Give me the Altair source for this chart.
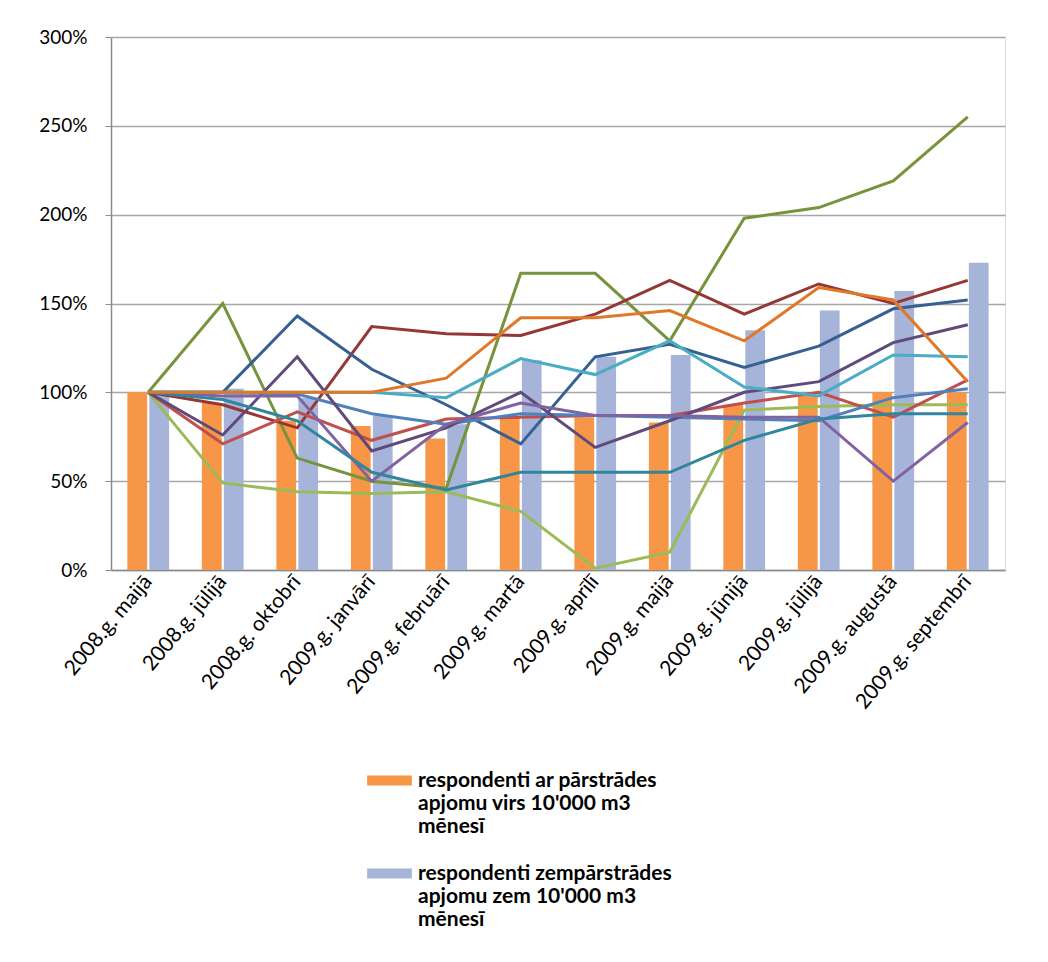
import altair as alt
import pandas as pd

months = ["2008.g. maijā", "2008.g. jūlijā", "2008.g. oktobrī", "2009.g. janvārī",
          "2009.g. februārī", "2009.g. martā", "2009.g. aprīlī", "2009.g. maijā",
          "2009.g. jūnijā", "2009.g. jūlijā", "2009.g. augustā", "2009.g. septembrī"]

bar_names = ["respondenti ar pārstrādes|apjomu virs 10'000 m3|mēnesī",
             "respondenti zempārstrādes|apjomu zem 10'000 m3|mēnesī"]
bar_large = [100, 94, 84, 81, 74, 86, 86, 83, 93, 98, 100, 100]
bar_small = [100, 102, 97, 87, 82, 118, 120, 121, 135, 146, 157, 173]
bar_colors = ["#F79646", "#A5B4D8"]

line_names = ["L1", "L2", "L3", "L4", "L5", "L6", "L7", "L8", "L9", "L10", "L11"]
line_colors = ["#77933C", "#9BBB59", "#953735", "#C0504D", "#376092", "#4F81BD",
               "#604A7B", "#8064A2", "#4BACC6", "#31859C", "#E0782A"]
l1 = [100, 150, 63, 50, 46, 167, 167, 129, 198, 204, 219, 255]
l2 = [100, 49, 44, 43, 44, 33, 1, 10, 90, 92, 93, 93]
l3 = [100, 93, 80, 137, 133, 132, 144, 163, 144, 161, 150, 163]
l4 = [100, 71, 89, 73, 85, 86, 87, 87, 94, 100, 86, 107]
l5 = [100, 100, 143, 113, 93, 71, 120, 127, 114, 126, 147, 152]
l6 = [100, 100, 99, 88, 82, 88, 87, 86, 85, 84, 97, 102]
l7 = [100, 76, 120, 67, 80, 100, 69, 84, 100, 106, 128, 138]
l8 = [100, 98, 98, 50, 82, 94, 87, 87, 86, 86, 50, 83]
l9 = [100, 100, 100, 100, 97, 119, 110, 129, 103, 98, 121, 120]
l10 = [100, 96, 84, 55, 45, 55, 55, 55, 73, 85, 88, 88]
l11 = [100, 100, 100, 100, 108, 142, 142, 146, 129, 159, 152, 106]
line_values = [l1, l2, l3, l4, l5, l6, l7, l8, l9, l10, l11]

bar_rows = []
for name, vals in zip(bar_names, [bar_large, bar_small]):
    for m, v in zip(months, vals):
        bar_rows.append({"month": m, "group": name, "value": v / 100})
bars_df = pd.DataFrame(bar_rows)

line_rows = []
for name, vals in zip(line_names, line_values):
    for i, (m, v) in enumerate(zip(months, vals)):
        line_rows.append({"month": m, "series": name, "value": v / 100, "order": i})
lines_df = pd.DataFrame(line_rows)

FONT = "Lato"

x_enc = alt.X("month:N", sort=months,
              scale=alt.Scale(paddingInner=0.44, paddingOuter=0.22),
              axis=alt.Axis(title=None, labelAngle=-50, labelAlign="right",
                            labelBaseline="middle", labelFontSize=21, labelFont=FONT,
                            labelColor="#000000", labelPadding=8, ticks=False,
                            domainColor="#8C8C8C", domainWidth=1.5))
y_enc = alt.Y("value:Q", scale=alt.Scale(domain=[0, 3], nice=False),
              axis=alt.Axis(title=None, values=[0, 0.5, 1, 1.5, 2, 2.5, 3], format=".0%",
                            labelFontSize=19, labelFont=FONT, labelColor="#000000",
                            labelPadding=18, tickSize=6, tickColor="#8C8C8C",
                            domainColor="#8C8C8C", domainWidth=1.5,
                            gridColor="#A6A6A6", gridWidth=1.3))

bars = alt.Chart(bars_df).mark_bar().encode(
    x=x_enc,
    y=y_enc,
    xOffset=alt.XOffset("group:N", sort=bar_names, scale=alt.Scale(paddingInner=0.1)),
    color=alt.Color("group:N", sort=bar_names,
                    scale=alt.Scale(domain=bar_names, range=bar_colors),
                    legend=alt.Legend(title=None, orient="none", legendX=256, legendY=721,
                                      direction="vertical",
                                      symbolType="M-1,-0.22H1V0.22H-1Z", symbolSize=2000,
                                      symbolStrokeWidth=0, labelFontSize=21,
                                      labelFont=FONT, labelFontWeight="bold",
                                      labelColor="#000000", labelLimit=500,
                                      labelOffset=6, rowPadding=14,
                                      labelExpr="split(datum.label, '|')")),
)

lines = alt.Chart(lines_df).mark_line(strokeWidth=3).encode(
    x=alt.X("month:N", sort=months),
    y=alt.Y("value:Q"),
    order="order:Q",
    color=alt.Color("series:N", sort=line_names,
                    scale=alt.Scale(domain=line_names, range=line_colors), legend=None),
)

chart = alt.layer(bars, lines).resolve_scale(color="independent").properties(
    width=894, height=533,
    autosize=alt.AutoSizeParams(type="none"),
    padding={"left": 103, "top": 29, "right": 35, "bottom": 385},
).configure_view(stroke=None).configure(background="#FFFFFF")

chart.save("out.html", embed_options={"renderer": "svg", "actions": False})
